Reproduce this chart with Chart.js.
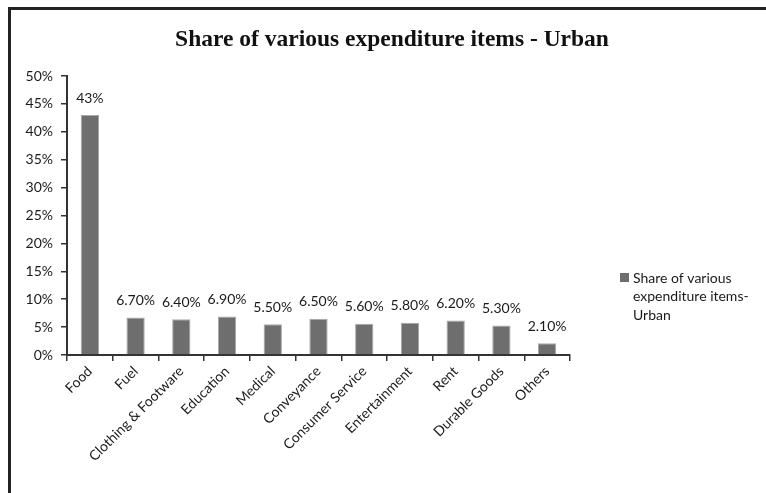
<!DOCTYPE html>
<html>
<head>
<meta charset="utf-8">
<script src="https://cdn.jsdelivr.net/npm/chart.js@4"></script>
<style>
html,body{margin:0;padding:0;background:#fff;}
#wrap{position:relative;width:766px;height:493px;}
canvas{display:block;}
</style>
</head>
<body>
<div id="wrap"><canvas id="c" width="766" height="493"></canvas></div>
<script>
const categories = ["Food","Fuel","Clothing & Footware","Education","Medical","Conveyance","Consumer Service","Entertainment","Rent","Durable Goods","Others"];
const values = [43, 6.7, 6.4, 6.9, 5.5, 6.5, 5.6, 5.8, 6.2, 5.3, 2.1];
const valueLabels = ["43%","6.70%","6.40%","6.90%","5.50%","6.50%","5.60%","5.80%","6.20%","5.30%","2.10%"];
const seriesName = "Share of various expenditure items- Urban";
const legendLines = ["Share of various","expenditure items-","Urban"];
const titleText = "Share of various expenditure items - Urban";

const FONT = "Lato, 'Open Sans', sans-serif";

const framePlugin = {
  id: 'frame',
  beforeDraw(chart) {
    const ctx = chart.ctx;
    ctx.save();
    ctx.fillStyle = '#fff';
    ctx.fillRect(0, 0, chart.width, chart.height);
    ctx.strokeStyle = '#222';
    ctx.lineWidth = 3;
    ctx.beginPath();
    ctx.moveTo(9.5, chart.height + 2);
    ctx.lineTo(9.5, 8.5);
    ctx.lineTo(chart.width + 2, 8.5);
    ctx.stroke();
    // title
    ctx.fillStyle = '#111';
    ctx.font = "bold 23.5px 'Liberation Serif', serif";
    ctx.textAlign = 'center';
    ctx.textBaseline = 'middle';
    ctx.fillText(titleText, 392, 40);
    ctx.restore();
  },
  afterDraw(chart) {
    const ctx = chart.ctx;
    ctx.save();
    // data labels
    const meta = chart.getDatasetMeta(0);
    ctx.fillStyle = '#1a1a1a';
    ctx.font = "14px " + FONT;
    ctx.textAlign = 'center';
    ctx.textBaseline = 'bottom';
    meta.data.forEach((bar, i) => {
      ctx.fillText(valueLabels[i], bar.x, bar.y - 10);
    });
    // legend
    ctx.fillStyle = '#6e6e6e';
    ctx.fillRect(620, 273, 9, 9);
    ctx.fillStyle = '#1a1a1a';
    ctx.textAlign = 'left';
    ctx.textBaseline = 'middle';
    legendLines.forEach((t, i) => ctx.fillText(t, 633, 278 + i * 18.5));
    ctx.restore();
  }
};

new Chart(document.getElementById('c'), {
  type: 'bar',
  data: {
    labels: categories,
    datasets: [{
      label: seriesName,
      data: values,
      backgroundColor: '#6e6e6e',
      borderColor: '#a8a8a8',
      borderWidth: 1,
      barPercentage: 0.4,
      categoryPercentage: 1.0
    }]
  },
  options: {
    responsive: false,
    animation: false,
    layout: { padding: { left: 12, right: 196, top: 76, bottom: 8 } },
    plugins: {
      legend: { display: false },
      title: { display: false },
      tooltip: { enabled: false }
    },
    scales: {
      x: {
        offset: true,
        grid: { display: true, drawOnChartArea: false, offset: true, tickLength: 6, color: '#333', lineWidth: 1.5 },
        border: { display: true, color: '#333', width: 2 },
        ticks: { color: '#1a1a1a', font: { family: FONT, size: 14 }, minRotation: 45, maxRotation: 45, autoSkip: false, padding: 2 },
        afterFit(s) { s.height = 130; }
      },
      y: {
        min: 0, max: 50,
        grid: { display: true, drawOnChartArea: false, tickLength: 6, color: '#333', lineWidth: 1.5 },
        border: { display: true, color: '#333', width: 2 },
        ticks: { stepSize: 5, color: '#1a1a1a', font: { family: FONT, size: 14 }, padding: 8, callback: v => v + '%' },
        afterFit(s) { s.width = 55; }
      }
    }
  },
  plugins: [framePlugin]
});
</script>
</body>
</html>
